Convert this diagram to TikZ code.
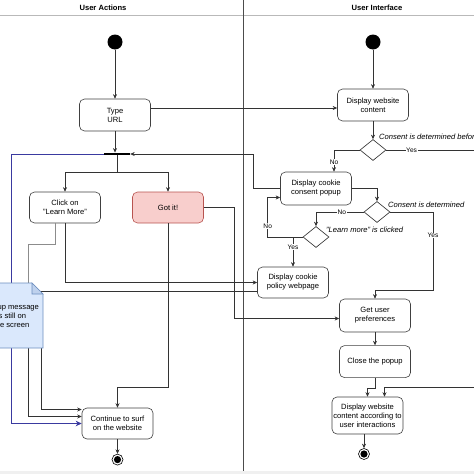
\documentclass[tikz,border=0pt]{standalone}
\usepackage{fontspec}
\setmainfont{Liberation Sans}
\usetikzlibrary{positioning}
\usetikzlibrary{shapes.geometric}
\usetikzlibrary{arrows.meta}
\newcommand{\diafont}{\fontsize{7.6}{9}\selectfont}
\newcommand{\tagfont}{\fontsize{6.6}{8}\selectfont}
\definecolor{notefill}{HTML}{DAE8FC}
\definecolor{noteline}{HTML}{6C8EBF}
\definecolor{gotfill}{HTML}{F8CECC}
\definecolor{gotline}{HTML}{B85450}
\definecolor{flowblue}{RGB}{58,58,160}
\tikzset{
	action/.style={
		rectangle, rounded corners=5pt,
		draw=black!75, fill=white, semithick,
		minimum width=71pt, minimum height=32pt,
		align=center, inner sep=1pt, font=\diafont},
	decision/.style={
		diamond, draw=black!85, fill=white, semithick,
		minimum width=26pt, minimum height=21pt, inner sep=0pt},
	startdot/.style={circle, fill=black, minimum size=15pt, inner sep=0pt},
	enddot/.style={
		circle, draw=black, fill=white, semithick,
		minimum size=11pt, inner sep=0pt,
		path picture={\fill[black] (path picture bounding box.center) circle (3.6pt);}},
	forkbar/.style={rectangle, fill=black, minimum width=26pt, minimum height=2.5pt, inner sep=0pt},
	flow/.style={draw=black!80, semithick, -{Stealth[length=4.5pt, width=4pt]}},
	notelink/.style={draw=black!45, semithick},
	blueflow/.style={draw=flowblue, line width=1pt, -{Stealth[length=6pt, width=5.5pt]}},
	guard/.style={font=\diafont\itshape, anchor=west, inner sep=1pt},
	branchtag/.style={font=\tagfont, fill=white, inner sep=0.6pt}
}
\begin{document}
\begin{tikzpicture}[x=1pt, y=-1pt]
	\useasboundingbox (0,0) rectangle (474,474);
	\clip (0,0) rectangle (474,474);
	% lanes
	\fill[gray!12] (0,471) rectangle (474,474);
	\draw[gray!55, line width=0.8pt] (0,15) -- (474,15);
	\draw[black!70, line width=0.7pt] (243,0) -- (243,471);
	\node[font=\diafont\bfseries] (lane1) at (103,7.5) {User Actions};
	\node[font=\diafont\bfseries] (lane2) at (377,7.5) {User Interface};
	% user actions
	\node[startdot] (start1) at (115,42) {};
	\node[action] (typeurl) at (115,115) {Type\\URL};
	\node[forkbar] (bar) at (117,154) {};
	\node[action, minimum height=31pt] (learn) at (65,207.5) {Click on\\"Learn More"};
	\node[action, minimum height=31pt, fill=gotfill, draw=gotline] (gotit) at (168,207.5) {Got it!};
	\node[action, minimum height=31pt] (surf) at (117.5,423.5) {Continue to surf\\on the website};
	\node[enddot, below=14.5pt of surf] (end1) {};
	% user interface
	\node[startdot] (start2) at (373,42) {};
	\node[action] (display) at (373,105) {Display website\\content};
	\node[decision] (d1) at (373,150) {};
	\node[action, minimum height=33pt] (popup) at (316,188.5) {Display cookie\\consent popup};
	\node[decision] (d2) at (377,212) {};
	\node[decision] (d3) at (316,237) {};
	\node[action, minimum height=31pt] (policy) at (293,282.5) {Display cookie\\policy webpage};
	\node[action, minimum height=33pt] (prefs) at (375,315.5) {Get user\\preferences};
	\node[action, below=13pt of prefs] (closep) {Close the popup};
	\node[action, minimum height=37pt] (final) at (367.5,415.5) {Display website\\content according to\\user interactions};
	\node[enddot] (end2) at (364,454) {};
	\node[guard] (g1) at (378,137) {Consent is determined before};
	\node[guard] (g2) at (387,205) {Consent is determined};
	\node[guard] (g3) at (325,230) {"Learn more" is clicked};
	% connectors
	\draw[flow] (start1) -- (typeurl);
	\draw[flow] (typeurl.south) -- (typeurl.south |- bar.north);
	\draw[flow] ([yshift=-3pt]display.west -| typeurl.east) -- ([yshift=-3pt]display.west);
	\draw[flow] (bar.south) -- ++(0,17) -| (learn.north);
	\draw[flow] (bar.south) -- ++(0,17) -| (gotit.north);
	\draw[flow] (start2) -- (display);
	\draw[flow] (display) -- (d1);
	\draw[flow] (d1.west) -| node[branchtag, pos=0.78] {No} ([xshift=18pt]popup.north);
	\draw[flow] (d1.east) -- node[branchtag, pos=0.23] {Yes} ++(110,0) |- ([xshift=17pt, yshift=9pt]final.north) -- ([xshift=17pt]final.north);
	\draw[flow] (popup.west) -- ++(-27,0) |- (bar.east);
	\draw[flow] (popup.east) -| (d2.north);
	\draw[flow] (d2.west) -| node[branchtag, pos=0.23] {No} (d3.north);
	\draw[flow] (d2.east) -| node[branchtag, pos=0.65] {Yes} ([xshift=58pt, yshift=8.5pt]prefs.north) -| (prefs.north);
	\draw[flow] (d3.west) -- ++(-35,0) |- node[branchtag, pos=0.14] {No} ([yshift=-9pt]popup.west);
	\draw[flow] (d3.west) -| node[branchtag, pos=0.67] {Yes} (policy.north);
	\draw[flow] (learn.south) |- (policy.west);
	\coordinate (lbend) at (28,244);
	\coordinate (nbot) at (28,348);
	\draw[notelink] ([xshift=-10pt]learn.south) |- (lbend) -- ++(0,45);
	\draw[flow] (nbot) |- ([yshift=7pt]surf.west);
	\draw[flow] ([yshift=-9pt]policy.west) -- ++(-216,0) |- ([yshift=14pt]surf.west);
	\draw[flow] (gotit.south) -- ([yshift=20pt]surf.north -| gotit.south) -| (surf.north);
	\draw[flow] (gotit.east) -- ++(30,0) |- ([yshift=-3pt]prefs.west);
	\draw[blueflow] (bar.west) -- ++(-92,0) |- (surf.west);
	\draw[flow] (prefs) -- (closep);
	\draw[flow] (closep.south) -- ++(0,10) -| (final.north);
	\draw[flow] (final.south -| end2) -- (end2);
	\draw[flow] (surf) -- (end1);
	% note on top of the lines
	\filldraw[fill=notefill, draw=noteline, semithick] (-20,283) -- (32,283) -- (43,294) -- (43,348) -- (-20,348) -- cycle;
	\filldraw[fill=notefill!75!noteline, draw=noteline, semithick] (32,283) -- (32,294) -- (43,294) -- cycle;
	\node[font=\diafont, align=center] (note) at (11.5,315.5) {Popup message\\is still on\\the screen};
\end{tikzpicture}
\end{document}
